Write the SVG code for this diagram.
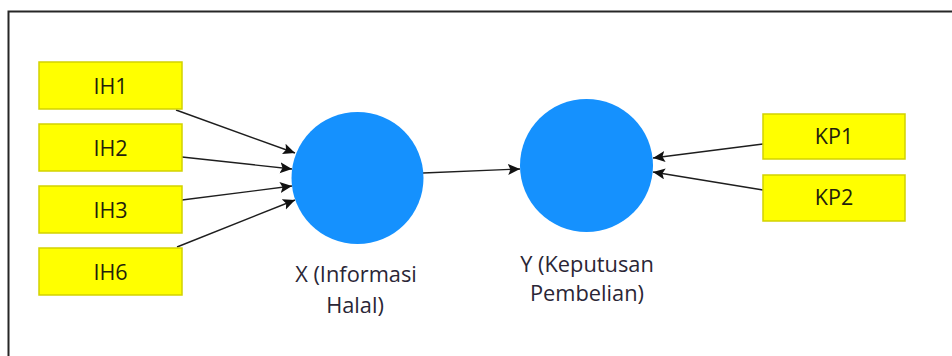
<svg xmlns="http://www.w3.org/2000/svg" width="952" height="356" viewBox="0 0 952 356">
  <style>
    .ind rect { fill: #ffff00; stroke: #d2d200; stroke-width: 1.5; }
    .ind text { font-family: "Open Sans", "Noto Sans", sans-serif; font-size: 21.5px; fill: #231e0c; text-anchor: middle; }
    .lat circle { fill: #1591fe; }
    .lat text { font-family: "Open Sans", "Noto Sans", sans-serif; font-size: 21.8px; fill: #2a2636; text-anchor: middle; }
    .edge { stroke: #1e1e1e; stroke-width: 1.4; fill: none; marker-end: url(#head); }
  </style>
  <defs>
    <marker id="head" markerUnits="userSpaceOnUse" markerWidth="14" markerHeight="12" refX="12" refY="5.5" orient="auto">
      <path d="M0,0 L12,5.5 L0,11 L2.5,5.5 Z" fill="#111"/>
    </marker>
  </defs>

  <rect width="952" height="356" fill="#ffffff"/>
  <!-- outer frame (left and top edges) -->
  <path d="M8.5,356 V11.5 H952" fill="none" stroke="#262626" stroke-width="2"/>

  <!-- connectors -->
  <g id="connectors">
    <line class="edge" x1="176" y1="110" x2="295" y2="153"/>
    <line class="edge" x1="182" y1="157" x2="292" y2="169"/>
    <line class="edge" x1="182" y1="200" x2="292" y2="186"/>
    <line class="edge" x1="177" y1="247" x2="295" y2="200"/>
    <line class="edge" x1="423" y1="173" x2="520" y2="169"/>
    <line class="edge" x1="763" y1="144" x2="653" y2="158"/>
    <line class="edge" x1="763" y1="190" x2="653" y2="172"/>
  </g>

  <!-- indicators -->
  <g id="IH1" class="ind"><rect x="39" y="62" width="143" height="47"/><text x="110.5" y="93.5">IH1</text></g>
  <g id="IH2" class="ind"><rect x="39" y="124" width="143" height="47"/><text x="110.5" y="155.5">IH2</text></g>
  <g id="IH3" class="ind"><rect x="39" y="186" width="143" height="47"/><text x="110.5" y="217.5">IH3</text></g>
  <g id="IH6" class="ind"><rect x="39" y="248" width="143" height="47"/><text x="110.5" y="279.5">IH6</text></g>
  <g id="KP1" class="ind"><rect x="763" y="114" width="142" height="45"/><text x="834" y="144">KP1</text></g>
  <g id="KP2" class="ind"><rect x="763" y="175" width="142" height="46"/><text x="834" y="205">KP2</text></g>

  <!-- latent variables -->
  <g id="X" class="lat">
    <circle cx="357.5" cy="178" r="66"/>
    <text x="356" y="282">X (Informasi</text>
    <text x="355" y="313">Halal)</text>
  </g>
  <g id="Y" class="lat">
    <circle cx="586.5" cy="165.5" r="66.5"/>
    <text x="587" y="272">Y (Keputusan</text>
    <text x="587" y="301">Pembelian)</text>
  </g>
</svg>
